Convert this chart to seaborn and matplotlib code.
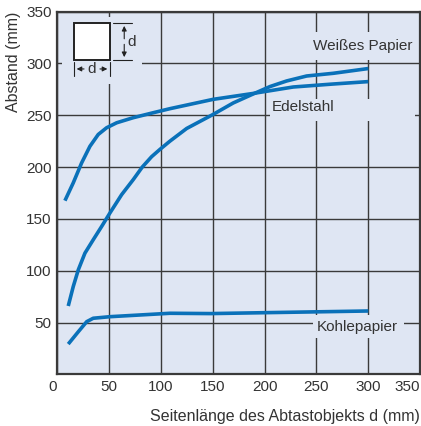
import numpy as np
import pandas as pd
import matplotlib
matplotlib.use("Agg")
import matplotlib.pyplot as plt
import seaborn as sns
from matplotlib.patches import Rectangle

# Kurven
weiss_x = [10.6, 15.4, 20.3, 26.7, 34.7, 42.8, 50.8, 62.1, 73.3, 82, 91, 99,
           108.7, 124.8, 150.4, 169.7, 189, 205.1, 221.2, 240.5, 266.1, 300]
weiss_y = [66, 84.7, 100.9, 117, 129.9, 142.7, 155.7, 173.4, 187.9, 200, 210, 217,
           225, 237.2, 250.8, 261.8, 270.5, 277.6, 283, 287.8, 290.4, 295]
edel_x = [7.4, 15.4, 23.5, 31.5, 39.5, 47.6, 57.3, 73.3, 92.6, 108.7, 150.4,
          189, 227.6, 265, 300]
edel_y = [167.6, 184.7, 204, 220, 231.4, 237.9, 242.7, 247.6, 252.4, 256.3, 265.3,
          271, 277.2, 280, 282.4]
kohle_x = [10.6, 20.3, 28.4, 34.7, 50.8, 108.7, 148, 202, 300]
kohle_y = [29.3, 41.2, 50.9, 54.2, 55.7, 59, 58.7, 59.6, 61.2]

ticks_x = [0, 50, 100, 150, 200, 250, 300, 350]
ticks_y = [50, 100, 150, 200, 250, 300, 350]

df = pd.concat([
    pd.DataFrame({"d": weiss_x, "abstand": weiss_y, "material": "Weißes Papier"}),
    pd.DataFrame({"d": edel_x, "abstand": edel_y, "material": "Edelstahl"}),
    pd.DataFrame({"d": kohle_x, "abstand": kohle_y, "material": "Kohlepapier"}),
])

bg = "#dfe6f3"
blau = "#0a71b9"
grau = "#333333"

sns.set_theme(style="white")
plt.rcParams["font.family"] = ["Liberation Sans", "DejaVu Sans"]

fig = plt.figure(figsize=(4.21, 4.26), dpi=100)
ax = fig.add_axes([0.136, 0.121, 0.862, 0.852])
ax.set_facecolor(bg)

sns.lineplot(data=df, x="d", y="abstand", units="material", estimator=None,
             sort=False, color=blau, linewidth=2.6, ax=ax, zorder=4, legend=False,
             solid_joinstyle="round", solid_capstyle="butt")

ax.set_xlim(0, 350)
ax.set_ylim(0, 350)
ax.set_xticks(ticks_x)
ax.set_yticks(ticks_y)
ax.set_xticklabels([str(t) for t in ticks_x])
ax.set_yticklabels([str(t) for t in ticks_y])
ax.tick_params(length=0, labelsize=11, colors=grau, pad=4)
xl = ax.get_xticklabels()
xl[0].set_ha("right")
xl[-1].set_ha("right")

ax.grid(True, color="#3a3a3a", linewidth=1.0)
ax.set_axisbelow(True)
for s in ax.spines.values():
    s.set_color("#3a3a3a")
    s.set_linewidth(1.6)

ax.set_xlabel("Seitenlänge des Abtastobjekts d (mm)", loc="right", fontsize=11.5,
              color=grau, labelpad=11)
ax.set_ylabel("Abstand (mm)", loc="top", fontsize=11.5, color=grau, labelpad=4)

# Beschriftungen mit Hintergrund-Kasten (unterbrechen das Gitter)
ax.add_patch(Rectangle((236, 303), 110, 27, facecolor=bg, edgecolor="none", zorder=1))
ax.text(247, 317, "Weißes Papier", fontsize=11, color=grau, va="center", zorder=2)
ax.add_patch(Rectangle((205, 244), 140, 22, facecolor=bg, edgecolor="none", zorder=1))
ax.text(207, 258, "Edelstahl", fontsize=11, color=grau, va="center", zorder=2)
ax.add_patch(Rectangle((247, 35), 87, 22, facecolor=bg, edgecolor="none", zorder=1))
ax.text(250, 45.5, "Kohlepapier", fontsize=11, color=grau, va="center", zorder=2)

# Skizze des Abtastobjekts
ax.add_patch(Rectangle((4.5, 280), 77, 64.5, facecolor=bg, edgecolor="none", zorder=1))
ax.add_patch(Rectangle((16, 303.3), 35, 35.5, facecolor="white", edgecolor="#222222",
                       linewidth=1.4, zorder=2))
ax.plot([54, 72.3], [338.8, 338.8], color="#222222", linewidth=0.8, zorder=2)
ax.plot([54, 72.3], [303.3, 303.3], color="#222222", linewidth=0.8, zorder=2)
ax.annotate("", xy=(64.6, 338.8), xytext=(64.6, 321), zorder=2,
            arrowprops=dict(arrowstyle="-|>", color="#222222", lw=0.8, mutation_scale=7))
ax.annotate("", xy=(64.6, 303.3), xytext=(64.6, 321), zorder=2,
            arrowprops=dict(arrowstyle="-|>", color="#222222", lw=0.8, mutation_scale=7))
ax.text(67.5, 321, "d", fontsize=11, color=grau, va="center", ha="left", zorder=2)
ax.plot([16, 16], [287.5, 301], color="#222222", linewidth=0.8, zorder=2)
ax.plot([51, 51], [287.5, 301], color="#222222", linewidth=0.8, zorder=2)
ax.annotate("", xy=(16, 294.6), xytext=(28.5, 294.6), zorder=2,
            arrowprops=dict(arrowstyle="-|>", color="#222222", lw=0.8, mutation_scale=7))
ax.annotate("", xy=(51, 294.6), xytext=(38.5, 294.6), zorder=2,
            arrowprops=dict(arrowstyle="-|>", color="#222222", lw=0.8, mutation_scale=7))
ax.text(33.5, 294.6, "d", fontsize=11, color=grau, va="center", ha="center", zorder=2)

fig.savefig("out.png", dpi=100)
